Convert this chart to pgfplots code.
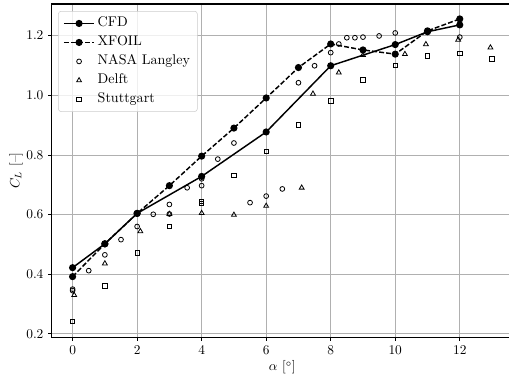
\documentclass[border=0pt]{standalone}
\usepackage{pgfplots}
\pgfplotsset{compat=1.18}
\definecolor{gridc}{RGB}{176,176,176}
\definecolor{legc}{RGB}{204,204,204}
\begin{document}
\begin{tikzpicture}
\begin{axis}[
  scale only axis, width=345pt, height=249.2pt,
  xmin=-0.65, xmax=13.65, ymin=0.1886, ymax=1.306,
  xtick={0,2,4,6,8,10,12},
  ytick={0.2,0.4,0.6,0.8,1.0,1.2},
  yticklabel style={/pgf/number format/.cd, fixed, fixed zerofill, precision=1},
  tick align=outside, tick pos=left, major tick length=2.6pt,
  tick style={black, line width=0.6pt},
  grid=major, major grid style={gridc, line width=0.6pt},
  axis line style={line width=0.8pt},
  xlabel={$\alpha$ [$^\circ$]}, ylabel={$C_L$ [--]},
  xlabel style={at={(axis description cs:0.5,-0.091)}, anchor=center},
  ylabel style={at={(axis description cs:-0.077,0.5)}, anchor=center},
  legend cell align=left,
  legend style={at={(axis description cs:0.0142,0.979)}, anchor=north west,
    draw=legc, rounded corners=2pt, fill=white, fill opacity=0.8,
    text opacity=1, draw opacity=1, inner xsep=3.5pt, inner ysep=2pt,
    font=\fontsize{10.5}{12.6}\selectfont,
    nodes={inner xsep=2pt, inner ysep=2.6pt, text height=7pt, text depth=2pt}},
  legend image code/.code={\draw[mark repeat=2,mark phase=2,#1,fill opacity=1] plot coordinates {(0cm,0cm)(0.4cm,0cm)(0.8cm,0cm)};},
]
\addplot[black, line width=1.1pt, mark=*, mark size=2.1pt] coordinates {
(0,0.422)(1,0.502)(2,0.604)(4,0.728)(6,0.877)(8,1.099)(10,1.170)(11,1.213)(12,1.236)};
\addlegendentry{CFD}
\addplot[black, line width=1.1pt, dash pattern=on 3.7pt off 1.6pt, mark=*, mark size=2.1pt, mark options={solid}] coordinates {
(0,0.392)(1,0.502)(2,0.604)(3,0.697)(4,0.796)(5,0.890)(6,0.991)(7,1.093)(8,1.172)(9,1.152)(10,1.138)(11,1.216)(12,1.256)};
\addlegendentry{XFOIL}
\addplot[black, only marks, mark=o, mark size=1.8pt, mark options={line width=0.6pt}] coordinates {
(0,0.350)(0,0.345)(0.5,0.412)(1,0.465)(1.5,0.516)(2,0.560)(2.5,0.601)(3,0.602)(3,0.634)(3.55,0.690)(4,0.697)(4,0.720)(4.5,0.786)(5,0.840)(5.5,0.640)(6,0.662)(6.5,0.686)(7,1.042)(7.5,1.099)(8,1.143)(8.25,1.172)(8.5,1.193)(8.75,1.193)(9,1.195)(9.5,1.199)(10,1.209)(12,1.195)};
\addlegendentry{NASA Langley}
\addplot[black, only marks, mark=triangle, mark size=2.1pt, mark options={line width=0.6pt}] coordinates {
(0.05,0.330)(1,0.436)(2.1,0.544)(3,0.602)(4,0.605)(5,0.599)(6,0.629)(7.1,0.690)(7.45,1.005)(8.25,1.076)(9,1.135)(10.3,1.138)(10.95,1.171)(11.95,1.186)(12.95,1.160)};
\addlegendentry{Delft}
\addplot[black, only marks, mark=square, mark size=1.65pt, mark options={line width=0.6pt}] coordinates {
(0,0.241)(1,0.361)(2,0.472)(3,0.561)(4,0.645)(4,0.638)(5,0.731)(6,0.811)(7,0.900)(8,0.981)(9,1.052)(10,1.101)(11,1.132)(12,1.141)(13,1.122)};
\addlegendentry{Stuttgart}
\end{axis}
\pgfresetboundingbox
\useasboundingbox ([xshift=-38.6pt,yshift=-32.3pt]current axis.south west) rectangle ([xshift=-3pt,yshift=3pt]current axis.north east);
\end{tikzpicture}
\end{document}
